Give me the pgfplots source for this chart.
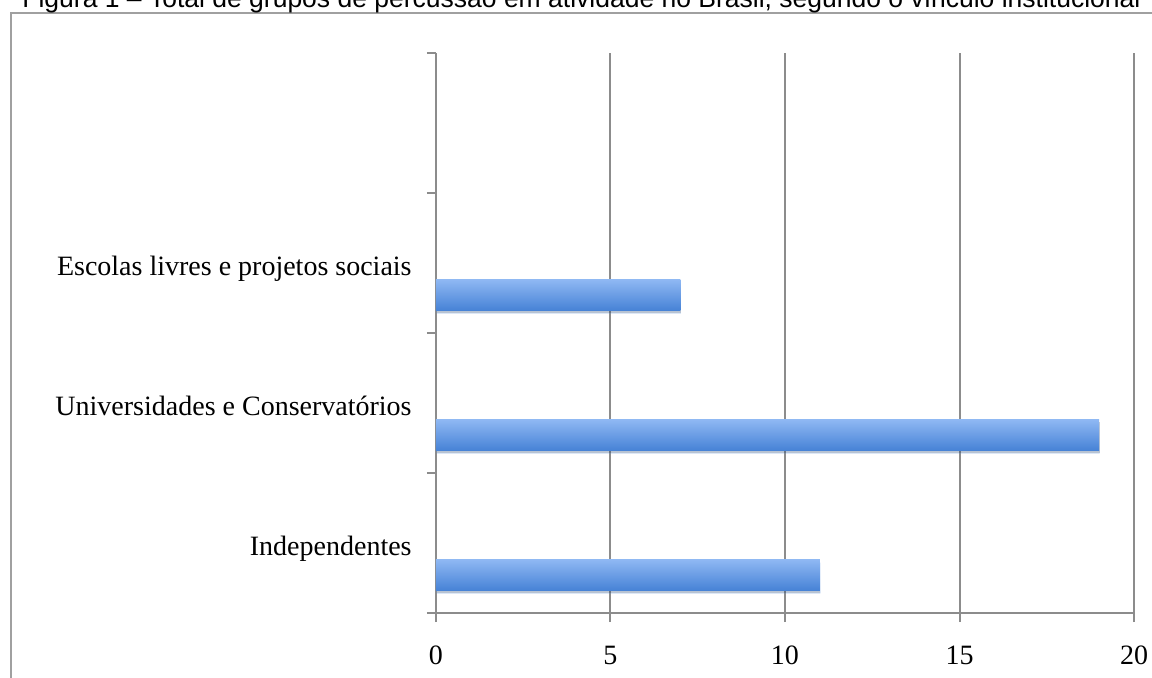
\documentclass[border=0pt]{standalone}
\usepackage{fontspec}
\setmainfont{Liberation Serif}
\newfontfamily\arial{Liberation Sans}
\usepackage{pgfplots}
\pgfplotsset{compat=1.18}
\usetikzlibrary{shadows}
\definecolor{gridgray}{HTML}{8C8C8C}
\definecolor{framegray}{HTML}{A0A0A0}
\definecolor{bartop}{HTML}{8FB8F3}
\definecolor{barbot}{HTML}{4682D6}
\begin{document}
\begin{tikzpicture}[x=0.5pt,y=0.5pt]
\useasboundingbox (0,0) rectangle (1152,677);
\clip (0,0) rectangle (1152,677);
\fill[white] (0,0) rectangle (1152,677);
\draw[framegray, line width=1.2pt] (11,-50) -- (11,664) -- (1250,664);
\node[anchor=base west, inner sep=0pt, font=\arial\fontsize{13.25}{15}\selectfont] at (22,669) {Figura 1 – Total de grupos de percussão em atividade no Brasil, segundo o vínculo institucional};
\begin{axis}[
  at={(218pt,32pt)}, anchor=south west,
  scale only axis, width=349pt, height=280pt,
  xmin=0, xmax=20, ymin=0.5, ymax=4.5,
  xtick={0,5,10,15,20},
  ytick={0.5,1.5,2.5,3.5,4.5}, yticklabels={},
  extra y ticks={1,2,3},
  extra y tick labels={Independentes,Universidades e Conservatórios,Escolas livres e projetos sociais},
  extra y tick style={major tick length=0pt, grid=none},
  axis x line*=bottom, axis y line*=left,
  axis line style={gridgray, line width=1pt},
  tick style={gridgray, line width=1pt},
  major tick length=4.5pt, tick align=outside,
  xmajorgrids, major grid style={gridgray, line width=1pt},
  ymajorgrids=false,
  tick label style={font=\fontsize{14}{16}\selectfont, text=black},
  /pgf/number format/assume math mode=true,
  yticklabel style={anchor=base east, inner sep=0pt, xshift=-12pt, yshift=-6pt},
  xticklabel style={anchor=base, inner sep=0pt, yshift=-21pt},
  clip=false, no markers,
  every axis plot/.append style={xbar, bar width=15.5pt, bar shift=-16pt, draw=none, mark=none,
    top color=bartop, bottom color=barbot,
    drop shadow={shadow xshift=0.3pt, shadow yshift=-1.3pt, fill=black, opacity=0.18}},
]
\addplot coordinates {(11,1)};
\addplot coordinates {(19,2)};
\addplot coordinates {(7,3)};
\end{axis}
\end{tikzpicture}
\end{document}
